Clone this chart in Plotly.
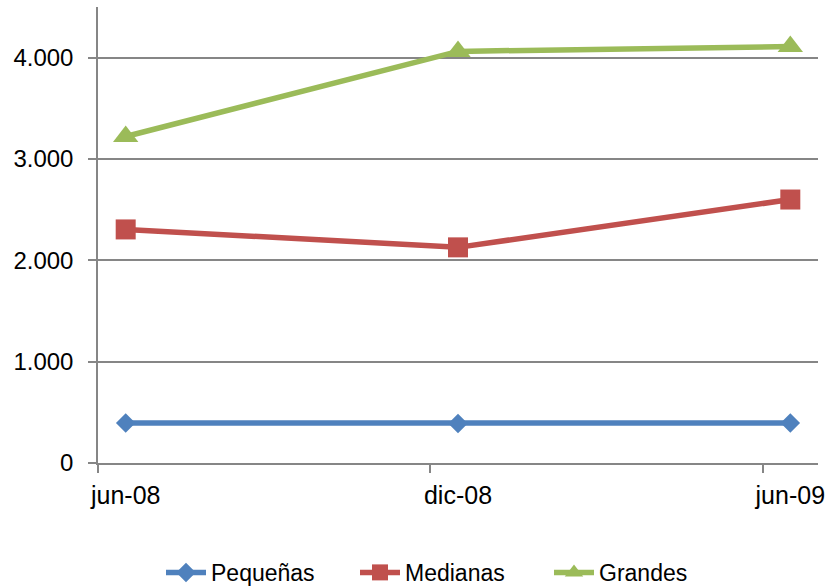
import plotly.graph_objects as go

categories = ["jun-08", "dic-08", "jun-09"]
pequenas = [395, 390, 395]
medianas = [2305, 2128, 2600]
grandes = [3222, 4062, 4110]
y_ticks = [0, 1000, 2000, 3000, 4000]

idx = list(range(len(categories)))
FONT = "Liberation Sans"
GRID = "#868686"

fig = go.Figure()
series = [
    ("Pequeñas", pequenas, "#4F81BD", "diamond", 15),
    ("Medianas", medianas, "#C0504D", "square", 20),
    ("Grandes", grandes, "#9BBB59", "triangle-up", 22),
]
for name, vals, color, sym, size in series:
    fig.add_trace(go.Scatter(
        x=idx, y=vals, name=name, mode="lines+markers",
        line=dict(color=color, width=5.5),
        marker=dict(symbol=sym, size=size, color=color, line=dict(width=0)),
    ))

pad = 1 / 12
fig.update_layout(
    width=827, height=586,
    margin=dict(l=98, r=9, t=7, b=123, autoexpand=False),
    paper_bgcolor="white", plot_bgcolor="white",
    separators=",.",
    font=dict(family=FONT, size=24, color="black"),
    showlegend=True,
    legend=dict(orientation="h", x=0.0875, xanchor="left", y=-0.24, yanchor="middle",
                font=dict(family=FONT, size=23, color="black"),
                itemwidth=40, entrywidth=139, tracegroupgap=0, traceorder="normal"),
)
fig.update_xaxes(
    range=[-pad, idx[-1] + pad], automargin=False,
    tickvals=idx, ticktext=categories, ticks="", showgrid=False,
    tickfont=dict(family=FONT, size=25, color="black"),
    showline=True, linecolor=GRID, linewidth=1.5, zeroline=False,
    ticklabelstandoff=9, ticklabeloverflow="allow",
    minor=dict(tick0=-pad, dtick=1, ticks="outside", ticklen=8, tickcolor=GRID,
               tickwidth=1.5, showgrid=False),
)
fig.update_yaxes(
    range=[0, 4500], tickvals=y_ticks, tickformat=",d", automargin=False,
    tickfont=dict(family=FONT, size=24, color="black"),
    showgrid=True, gridcolor=GRID, gridwidth=1.5,
    showline=True, linecolor=GRID, linewidth=1.5, zeroline=False,
    ticks="outside", ticklen=8, tickcolor=GRID, tickwidth=1.5,
    ticklabelstandoff=10,
)

fig.write_html("out.html", config={"displayModeBar": False},
               post_script="document.body.style.margin='0';document.body.style.overflow='hidden';")
